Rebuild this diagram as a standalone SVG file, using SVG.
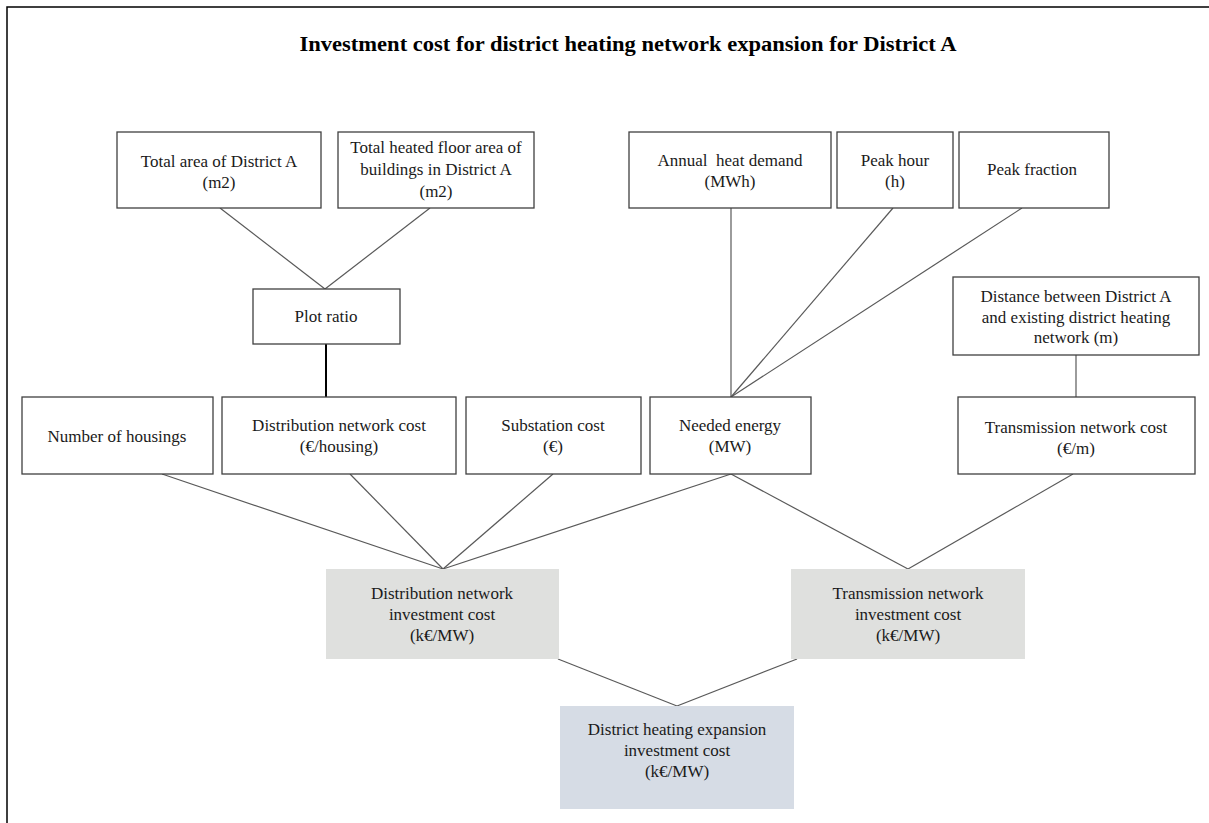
<svg xmlns="http://www.w3.org/2000/svg" width="1209" height="823" viewBox="0 0 1209 823">
<style>
  .box{fill:#ffffff;stroke:#404040;stroke-width:1.3}
  .grey{fill:#dfe0de;stroke:none}
  .blue{fill:#d6dce5;stroke:none}
  .t{font-family:"Liberation Serif","Times New Roman",serif;font-size:17px;fill:#1a1a1a;text-anchor:middle}
  .title{font-family:"Liberation Serif","Times New Roman",serif;font-size:20px;font-weight:bold;fill:#000;text-anchor:middle}
  .c{stroke:#595959;stroke-width:1.2;fill:none}
  .ck{stroke:#000;stroke-width:2;fill:none}
  .frame{stroke:#000;stroke-width:1.5;fill:none}
</style>
<rect width="1209" height="823" fill="#ffffff"/>
<path class="frame" d="M7 823 V7 H1209"/>
<text class="title" x="628" y="51" textLength="657" lengthAdjust="spacingAndGlyphs">Investment cost for district heating network expansion for District A</text>

<g id="connectors">
  <line class="c" x1="220" y1="208" x2="325" y2="289"/>
  <line class="c" x1="430" y1="208" x2="325" y2="289"/>
  <line class="ck" x1="326" y1="344" x2="326" y2="397"/>
  <line class="c" x1="731" y1="208" x2="731" y2="397"/>
  <line class="c" x1="893" y1="208" x2="731" y2="397"/>
  <line class="c" x1="1022" y1="208" x2="731" y2="397"/>
  <line class="c" x1="1076" y1="355" x2="1076" y2="397"/>
  <line class="c" x1="162" y1="474" x2="443" y2="569"/>
  <line class="c" x1="350" y1="474" x2="443" y2="569"/>
  <line class="c" x1="553" y1="474" x2="443" y2="569"/>
  <line class="c" x1="731" y1="474" x2="443" y2="569"/>
  <line class="c" x1="731" y1="474" x2="908" y2="569"/>
  <line class="c" x1="1073" y1="474" x2="908" y2="569"/>
  <line class="c" x1="558" y1="659" x2="677" y2="706"/>
  <line class="c" x1="797" y1="659" x2="677" y2="706"/>
</g>

<g id="total-area">
  <rect class="box" x="117" y="132" width="204" height="76"/>
  <text class="t" x="219" y="167">Total area of District A</text>
  <text class="t" x="219" y="188">(m2)</text>
</g>
<g id="total-heated">
  <rect class="box" x="338" y="132" width="196" height="76"/>
  <text class="t" x="436" y="153">Total heated floor area of</text>
  <text class="t" x="436" y="175">buildings in District A</text>
  <text class="t" x="436" y="197">(m2)</text>
</g>
<g id="annual-heat">
  <rect class="box" x="629" y="132" width="202" height="76"/>
  <text class="t" x="730" y="166" xml:space="preserve">Annual  heat demand</text>
  <text class="t" x="730" y="187">(MWh)</text>
</g>
<g id="peak-hour">
  <rect class="box" x="837" y="132" width="116" height="76"/>
  <text class="t" x="895" y="166">Peak hour</text>
  <text class="t" x="895" y="187">(h)</text>
</g>
<g id="peak-fraction">
  <rect class="box" x="959" y="132" width="150" height="76"/>
  <text class="t" x="1032" y="175">Peak fraction</text>
</g>
<g id="plot-ratio">
  <rect class="box" x="253" y="289" width="147" height="55"/>
  <text class="t" x="326" y="322">Plot ratio</text>
</g>
<g id="distance">
  <rect class="box" x="953" y="277" width="246" height="78"/>
  <text class="t" x="1076" y="302">Distance between District A</text>
  <text class="t" x="1076" y="323">and existing district heating</text>
  <text class="t" x="1076" y="343">network (m)</text>
</g>
<g id="housings">
  <rect class="box" x="22" y="397" width="191" height="77"/>
  <text class="t" x="117" y="442">Number of housings</text>
</g>
<g id="distribution-cost">
  <rect class="box" x="222" y="397" width="234" height="77"/>
  <text class="t" x="339" y="431">Distribution network cost</text>
  <text class="t" x="339" y="452">(€/housing)</text>
</g>
<g id="substation">
  <rect class="box" x="466" y="397" width="175" height="77"/>
  <text class="t" x="553" y="431">Substation cost</text>
  <text class="t" x="553" y="452">(€)</text>
</g>
<g id="needed-energy">
  <rect class="box" x="650" y="397" width="161" height="77"/>
  <text class="t" x="730" y="431">Needed energy</text>
  <text class="t" x="730" y="452">(MW)</text>
</g>
<g id="transmission-cost">
  <rect class="box" x="958" y="397" width="237" height="77"/>
  <text class="t" x="1076" y="433">Transmission network cost</text>
  <text class="t" x="1076" y="454">(€/m)</text>
</g>
<g id="distribution-investment">
  <rect class="grey" x="326" y="569" width="233" height="90"/>
  <text class="t" x="442" y="599">Distribution network</text>
  <text class="t" x="442" y="620">investment cost</text>
  <text class="t" x="442" y="641">(k€/MW)</text>
</g>
<g id="transmission-investment">
  <rect class="grey" x="791" y="569" width="234" height="90"/>
  <text class="t" x="908" y="599">Transmission network</text>
  <text class="t" x="908" y="620">investment cost</text>
  <text class="t" x="908" y="641">(k€/MW)</text>
</g>
<g id="dh-expansion">
  <rect class="blue" x="560" y="706" width="234" height="103"/>
  <text class="t" x="677" y="735">District heating expansion</text>
  <text class="t" x="677" y="756">investment cost</text>
  <text class="t" x="677" y="777">(k€/MW)</text>
</g>
</svg>
